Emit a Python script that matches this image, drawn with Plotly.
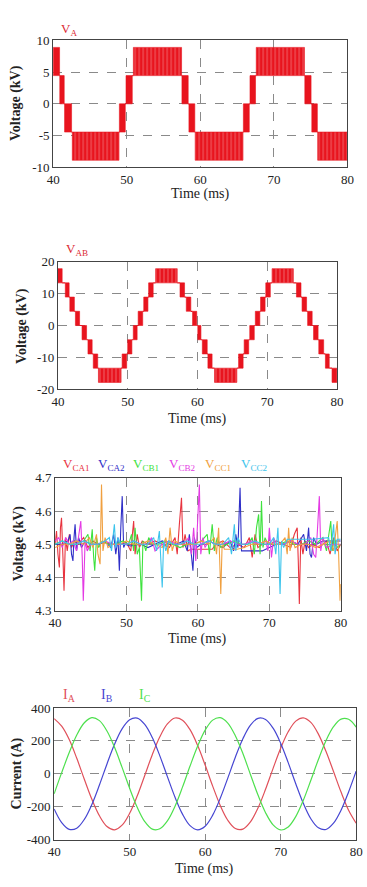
import plotly.graph_objects as go

# ---------------- Panel 1 : phase voltage V_A (kV) ----------------
VA_T0 = [40.0, 40.9, 41.55, 42.6, 49.0, 49.9, 50.9, 57.5, 58.45, 59.3, 65.85, 66.75, 67.6, 74.2, 75.15, 75.95]
VA_T1 = [40.87, 41.5, 42.5, 48.95, 49.8, 50.75, 57.45, 58.35, 59.25, 65.8, 66.65, 67.5, 74.15, 75.05, 75.9, 80.0]
VA_LO = [4.45, 0.0, -4.45, -8.9, -4.45, 0.0, 4.45, 0.0, -4.45, -8.9, -4.45, 0.0, 4.45, 0.0, -4.45, -8.9]
VA_HI = [8.9, 4.45, 0.0, -4.45, 0.0, 4.45, 8.9, 4.45, 0.0, -4.45, 0.0, 4.45, 8.9, 4.45, 0.0, -4.45]

# ---------------- Panel 2 : line voltage V_AB (kV) ----------------
VAB_T0 = [40.0, 41.05, 41.7, 42.5, 43.45, 44.3, 45.06, 45.8, 49.2, 50.0, 50.8, 51.5, 52.3, 53.0, 54.0,
          57.5, 58.4, 59.3, 60.05, 60.7, 61.5, 62.45, 65.9, 66.7, 67.5, 68.3, 69.05, 69.8, 70.7,
          74.2, 75.0, 75.8, 76.65, 77.4, 78.35, 79.3]
VAB_T1 = [40.6, 41.6, 42.35, 43.1, 44.1, 44.9, 45.7, 49.05, 49.85, 50.6, 51.35, 52.15, 52.9, 53.65, 57.1,
          58.15, 59.05, 59.9, 60.5, 61.4, 62.1, 65.65, 66.55, 67.35, 68.15, 68.95, 69.7, 70.45, 73.75,
          74.85, 75.65, 76.45, 77.3, 78.1, 78.9, 80.0]
VAB_LO = [13.35, 8.9, 4.45, 0.0, -4.45, -8.9, -13.35, -17.8, -13.35, -8.9, -4.45, 0.0, 4.45, 8.9, 13.35,
          8.9, 4.45, 0.0, -4.45, -8.9, -13.35, -17.8, -13.35, -8.9, -4.45, 0.0, 4.45, 8.9, 13.35,
          8.9, 4.45, 0.0, -4.45, -8.9, -13.35, -17.8]
VAB_HI = [17.8, 13.35, 8.9, 4.45, 0.0, -4.45, -8.9, -13.35, -8.9, -4.45, 0.0, 4.45, 8.9, 13.35, 17.8,
          13.35, 8.9, 4.45, 0.0, -4.45, -8.9, -13.35, -8.9, -4.45, 0.0, 4.45, 8.9, 13.35, 17.8,
          13.35, 8.9, 4.45, 0.0, -4.45, -8.9, -13.35]

# ---------------- Panel 3 : capacitor voltages (kV) ----------------
CA1_T = [40.0, 40.2, 40.4, 40.6, 40.75, 40.9, 41.1, 41.25, 41.45, 41.7, 42.0, 42.3, 42.7, 43.2, 44.0, 44.6, 45.3,
         46.0, 47.0, 48.0, 49.0, 50.0, 50.6, 50.8, 51.0, 51.2, 51.5, 51.8, 52.2, 53.0, 54.0, 55.0, 56.0, 56.8,
         57.1, 57.4, 57.7, 57.9, 58.2, 58.6, 59.0, 60.0, 61.0, 62.0, 62.5, 63.5, 64.5, 65.5, 66.5, 67.2, 67.6,
         68.0, 68.4, 69.0, 70.0, 71.0, 72.0, 73.0, 73.5, 73.9, 74.05, 74.2, 74.4, 74.7, 75.0, 75.5, 76.0, 77.0,
         78.0, 78.5, 79.0, 79.5, 80.0]
CA1_V = [4.50, 4.54, 4.47, 4.43, 4.55, 4.58, 4.46, 4.36, 4.52, 4.48, 4.53, 4.49, 4.51, 4.50, 4.52, 4.49, 4.51,
         4.50, 4.505, 4.50, 4.50, 4.505, 4.48, 4.54, 4.57, 4.47, 4.53, 4.49, 4.51, 4.50, 4.51, 4.50, 4.49, 4.52,
         4.47, 4.56, 4.64, 4.49, 4.53, 4.48, 4.485, 4.485, 4.485, 4.485, 4.50, 4.51, 4.49, 4.50, 4.49, 4.52, 4.46,
         4.53, 4.49, 4.50, 4.50, 4.51, 4.50, 4.49, 4.53, 4.55, 4.45, 4.32, 4.52, 4.47, 4.51, 4.49, 4.50, 4.49,
         4.51, 4.47, 4.52, 4.48, 4.50]

CA2_T = [40.0, 41.0, 41.8, 42.1, 42.3, 42.5, 42.65, 42.8, 43.0, 43.3, 43.7, 44.2, 45.0, 46.0, 47.0, 47.8, 48.2,
         48.5, 48.8, 49.0, 49.2, 49.4, 49.6, 49.8, 50.5, 52.0, 53.0, 54.0, 55.0, 56.0, 57.0, 58.0, 58.5, 58.8,
         59.1, 59.3, 59.5, 59.8, 60.5, 61.5, 62.5, 63.5, 64.5, 65.0, 65.3, 65.6, 65.9, 66.1, 66.4, 67.0, 68.0,
         69.0, 70.0, 71.0, 72.0, 73.0, 74.0, 74.8, 75.2, 75.5, 75.7, 75.9, 76.2, 76.6, 77.5, 78.5, 79.5, 80.0]
CA2_V = [4.50, 4.50, 4.51, 4.53, 4.47, 4.45, 4.52, 4.56, 4.48, 4.52, 4.49, 4.51, 4.50, 4.50, 4.51, 4.49, 4.53,
         4.47, 4.52, 4.42, 4.55, 4.645, 4.49, 4.50, 4.495, 4.50, 4.49, 4.50, 4.51, 4.50, 4.50, 4.51, 4.48, 4.53,
         4.46, 4.42, 4.52, 4.49, 4.50, 4.51, 4.50, 4.49, 4.51, 4.48, 4.53, 4.49, 4.67, 4.48, 4.48, 4.48, 4.48,
         4.48, 4.49, 4.50, 4.50, 4.51, 4.50, 4.53, 4.48, 4.55, 4.47, 4.46, 4.52, 4.50, 4.51, 4.51, 4.51, 4.51]

CB1_T = [40.0, 41.0, 42.0, 43.0, 44.0, 44.6, 44.9, 45.2, 45.4, 45.55, 45.8, 46.1, 46.6, 47.5, 48.5, 49.5, 50.3,
         50.7, 51.0, 51.2, 51.5, 51.8, 52.1, 52.3, 52.7, 53.1, 53.6, 54.5, 55.5, 56.5, 57.5, 58.5, 59.5, 60.5,
         61.3, 61.6, 62.0, 62.3, 62.7, 63.2, 64.0, 65.0, 66.0, 67.0, 67.6, 67.9, 68.2, 68.5, 68.7, 68.9, 69.1,
         69.4, 69.8, 70.5, 71.5, 72.5, 73.5, 74.5, 75.5, 76.5, 77.5, 78.0, 78.3, 78.6, 78.8, 79.1, 79.5, 80.0]
CB1_V = [4.50, 4.51, 4.50, 4.50, 4.51, 4.53, 4.48, 4.545, 4.46, 4.42, 4.52, 4.49, 4.51, 4.50, 4.50, 4.51, 4.50,
         4.53, 4.48, 4.55, 4.47, 4.49, 4.33, 4.51, 4.48, 4.52, 4.50, 4.50, 4.51, 4.50, 4.49, 4.50, 4.50, 4.51,
         4.53, 4.47, 4.56, 4.48, 4.52, 4.49, 4.50, 4.51, 4.50, 4.50, 4.52, 4.47, 4.55, 4.59, 4.47, 4.63, 4.49,
         4.52, 4.50, 4.50, 4.50, 4.51, 4.50, 4.50, 4.51, 4.50, 4.52, 4.48, 4.53, 4.57, 4.48, 4.52, 4.49, 4.50]

CB2_T = [40.0, 40.5, 41.0, 41.5, 42.0, 42.5, 43.0, 43.3, 43.6, 43.8, 43.95, 44.2, 44.5, 45.0, 46.0, 47.0, 48.0,
         49.0, 50.0, 51.0, 52.0, 53.0, 53.5, 54.0, 55.0, 56.0, 57.0, 58.0, 58.7, 59.1, 59.4, 59.7, 59.9, 60.2,
         60.4, 60.7, 61.0, 61.5, 62.5, 63.5, 64.5, 65.5, 66.5, 67.5, 68.5, 69.5, 69.8, 70.0, 70.3, 70.6, 71.0,
         72.0, 73.0, 74.0, 75.0, 75.8, 76.2, 76.5, 76.7, 77.0, 77.2, 77.5, 78.0, 79.0, 80.0]
CB2_V = [4.51, 4.52, 4.49, 4.52, 4.50, 4.51, 4.48, 4.53, 4.57, 4.46, 4.33, 4.51, 4.48, 4.50, 4.50, 4.51, 4.50,
         4.50, 4.50, 4.51, 4.50, 4.50, 4.52, 4.48, 4.50, 4.51, 4.50, 4.50, 4.52, 4.47, 4.55, 4.45, 4.56, 4.68,
         4.47, 4.52, 4.49, 4.51, 4.50, 4.50, 4.51, 4.50, 4.50, 4.51, 4.50, 4.51, 4.48, 4.55, 4.46, 4.52, 4.50,
         4.50, 4.51, 4.50, 4.50, 4.52, 4.47, 4.46, 4.53, 4.645, 4.48, 4.52, 4.49, 4.50, 4.50]

CC1_T = [40.0, 41.0, 42.0, 43.0, 44.0, 44.8, 45.3, 45.8, 46.0, 46.3, 46.5, 46.7, 47.0, 47.4, 48.0, 49.0, 50.0,
         51.0, 52.0, 53.0, 54.0, 55.0, 55.5, 55.8, 56.1, 56.4, 56.8, 57.5, 58.5, 59.5, 60.5, 61.5, 62.3, 62.6,
         62.9, 63.05, 63.2, 63.4, 63.7, 64.5, 65.5, 66.5, 67.5, 68.5, 69.5, 70.5, 71.5, 72.2, 72.5, 72.7, 72.9,
         73.2, 73.6, 74.5, 75.5, 76.5, 77.5, 78.5, 79.0, 79.3, 79.5, 79.7, 79.9, 80.0]
CC1_V = [4.49, 4.50, 4.50, 4.51, 4.50, 4.52, 4.49, 4.53, 4.47, 4.44, 4.68, 4.48, 4.52, 4.49, 4.50, 4.50, 4.51,
         4.50, 4.50, 4.51, 4.50, 4.49, 4.52, 4.47, 4.55, 4.48, 4.51, 4.50, 4.50, 4.50, 4.51, 4.50, 4.52, 4.47,
         4.55, 4.46, 4.35, 4.51, 4.485, 4.485, 4.485, 4.49, 4.50, 4.50, 4.51, 4.50, 4.50, 4.52, 4.47, 4.55, 4.48,
         4.52, 4.49, 4.50, 4.50, 4.49, 4.50, 4.51, 4.48, 4.53, 4.57, 4.47, 4.33, 4.38]

CC2_T = [40.0, 41.0, 42.0, 43.0, 44.0, 45.0, 46.0, 47.0, 47.6, 47.9, 48.3, 48.5, 48.8, 49.2, 50.0, 51.0, 52.0,
         53.0, 53.8, 54.2, 54.6, 54.8, 55.0, 55.2, 55.5, 55.9, 56.5, 57.5, 58.5, 59.5, 60.5, 61.5, 62.5, 63.5,
         64.3, 64.7, 65.1, 65.3, 65.6, 66.0, 67.0, 68.0, 69.0, 70.0, 70.6, 70.9, 71.2, 71.35, 71.5, 71.7, 72.0,
         72.5, 74.0, 76.0, 78.3, 78.6, 79.0, 79.2, 79.5, 80.0]
CC2_V = [4.50, 4.51, 4.50, 4.50, 4.51, 4.50, 4.50, 4.51, 4.52, 4.48, 4.56, 4.49, 4.52, 4.50, 4.50, 4.51, 4.50,
         4.50, 4.52, 4.48, 4.54, 4.45, 4.37, 4.51, 4.48, 4.51, 4.50, 4.50, 4.51, 4.50, 4.50, 4.51, 4.50, 4.50,
         4.52, 4.47, 4.56, 4.48, 4.52, 4.50, 4.50, 4.51, 4.50, 4.50, 4.52, 4.47, 4.55, 4.46, 4.35, 4.51, 4.49,
         4.515, 4.515, 4.515, 4.52, 4.48, 4.56, 4.47, 4.515, 4.515]

# ---------------- Panel 4 : phase currents (A) ----------------
T_I = list(range(40, 81))
I_A = [335, 289, 208, 94, -33, -155, -255, -320, -340, -312, -240, -135, -10, 116, 225, 303, 339, 326, 268, 173,
       53, -75, -192, -282, -332, -336, -292, -208, -94, 33, 155, 255, 320, 340, 312, 241, 137, 14, -111, -221, -300]
I_B = [-213, -296, -337, -330, -277, -186, -68, 60, 179, 273, 328, 338, 300, 220, 109, -17, -141, -245, -315, -340,
       -318, -251, -149, -26, 101, 213, 296, 337, 330, 277, 186, 68, -60, -179, -273, -328, -338, -300, -221, -110, 16]
I_C = [-122, 7, 129, 236, 310, 341, 323, 260, 161, 39, -88, -203, -290, -336, -334, -286, -198, -81, 47, 167,
       265, 326, 341, 308, 231, 123, -4, -129, -236, -310, -341, -323, -260, -161, -39, 87, 201, 286, 332, 331, 284]

# ---------------- Axis ticks ----------------
X_TICKS = [40, 50, 60, 70, 80]
Y1_TICKS = [10, 5, 0, -5, -10]
Y2_TICKS = [20, 10, 0, -10, -20]
Y3_TICKS = [4.7, 4.6, 4.5, 4.4, 4.3]
Y4_TICKS = [400, 200, 0, -200, -400]

RED = "#e8141e"
FONT = "Liberation Serif, Times New Roman, DejaVu Serif, serif"
W, H = 367, 887


def px_x(p):
    return p / W


def px_y(p):
    return 1 - p / H


def band_poly(t0, t1, lo, hi, wide):
    xs, ys = [], []
    for a, b, l, h in zip(t0, t1, lo, hi):
        if ((b - a) >= 2.0) == wide:
            xs += [a, b, b, a, a, None]
            ys += [l, l, h, h, l, None]
    return xs, ys


def step_links(t0, t1, lo, hi):
    xs, ys = [], []
    for i in range(len(t0) - 1):
        shared = {lo[i], hi[i]} & {lo[i + 1], hi[i + 1]}
        if shared:
            lv = shared.pop()
            xs += [t1[i], t0[i + 1], None]
            ys += [lv, lv, None]
    return xs, ys


fig = go.Figure()


def add_bands(t0, t1, lo, hi, n):
    xa, ya = ("x" if n == 1 else f"x{n}"), ("y" if n == 1 else f"y{n}")
    lx, ly = step_links(t0, t1, lo, hi)
    fig.add_trace(go.Scatter(x=lx, y=ly, mode="lines", line=dict(color=RED, width=1.2),
                             xaxis=xa, yaxis=ya, hoverinfo="skip"))
    nx, ny = band_poly(t0, t1, lo, hi, False)
    fig.add_trace(go.Scatter(x=nx, y=ny, mode="lines", fill="toself", fillcolor=RED,
                             line=dict(color=RED, width=0.6), xaxis=xa, yaxis=ya, hoverinfo="skip"))
    wx, wy = band_poly(t0, t1, lo, hi, True)
    fig.add_trace(go.Scatter(x=wx, y=wy, mode="lines", fill="toself", fillcolor=RED,
                             fillpattern=dict(shape="|", fgcolor="rgba(255,235,235,0.85)", bgcolor=RED,
                                              size=4, solidity=0.22),
                             line=dict(color=RED, width=0.6), xaxis=xa, yaxis=ya, hoverinfo="skip"))


add_bands(VA_T0, VA_T1, VA_LO, VA_HI, 1)
add_bands(VAB_T0, VAB_T1, VAB_LO, VAB_HI, 2)

cap_series = [
    (CA1_T, CA1_V, "#e8343f"),
    (CA2_T, CA2_V, "#2f2fc8"),
    (CB1_T, CB1_V, "#3ee23e"),
    (CB2_T, CB2_V, "#e43ae4"),
    (CC1_T, CC1_V, "#f0a040"),
    (CC2_T, CC2_V, "#3cc4ec"),
]
for t, v, c in cap_series:
    fig.add_trace(go.Scatter(x=t, y=v, mode="lines", line=dict(color=c, width=1.1),
                             xaxis="x3", yaxis="y3", hoverinfo="skip"))

for vals, c in [(I_A, "#e0505a"), (I_B, "#4646d2"), (I_C, "#4ee04e")]:
    fig.add_trace(go.Scatter(x=T_I, y=vals, mode="lines", line=dict(color=c, width=1.2, shape="spline"),
                             xaxis="x4", yaxis="y4", hoverinfo="skip"))

domains = [
    ((48, 354), (34, 163), (-10, 10), Y1_TICKS, "%g"),
    ((53, 343), (259, 389), (-20, 20), Y2_TICKS, "%g"),
    ((50, 347), (479, 614), (4.3, 4.7), Y3_TICKS, "%.1f"),
    ((49, 363), (713, 847), (-400, 400), Y4_TICKS, "%g"),
]

layout = dict(width=W, height=H, margin=dict(l=0, r=0, t=0, b=0), paper_bgcolor="white",
              plot_bgcolor="white", showlegend=False, font=dict(family=FONT, size=12, color="#222"))

common = dict(showgrid=True, gridcolor="#8a8a8a", griddash="dash", gridwidth=0.8, showline=True,
              linecolor="#444", linewidth=1, mirror=True, ticks="", zeroline=False,
              tickfont=dict(family=FONT, size=13, color="#222"))

for i, ((x0, x1), (y0, y1), yr, yt, fmt) in enumerate(domains, start=1):
    sx = "" if i == 1 else str(i)
    layout[f"xaxis{sx}"] = dict(domain=[px_x(x0), px_x(x1)], range=[40, 80], anchor=f"y{sx}",
                                tickvals=X_TICKS, ticktext=[str(v) for v in X_TICKS],
                                ticklabelstandoff=0, **common)
    layout[f"yaxis{sx}"] = dict(domain=[px_y(y1), px_y(y0)], range=list(yr), anchor=f"x{sx}",
                                tickvals=yt, ticktext=[(fmt % v) for v in yt],
                                **common)

fig.update_layout(**layout)


def note(text, x, y, color="#222", size=12, angle=0, bold=False, xanchor="center"):
    if bold:
        text = f"<b>{text}</b>"
    fig.add_annotation(text=text, x=px_x(x), y=px_y(y), xref="paper", yref="paper", showarrow=False,
                       font=dict(family=FONT, size=size, color=color), textangle=angle,
                       xanchor=xanchor, yanchor="middle")


# Panel titles / legends
note("V<sub>A</sub>", 54, 23, color="#dc2a34", xanchor="left", size=13)
note("V<sub>AB</sub>", 59, 247, color="#dc2a34", xanchor="left", size=13)
leg3 = [("V<sub>CA1</sub>", 56, "#e8343f"), ("V<sub>CA2</sub>", 93, "#2f2fc8"), ("V<sub>CB1</sub>", 129, "#3ee23e"),
        ("V<sub>CB2</sub>", 166, "#e43ae4"), ("V<sub>CC1</sub>", 204, "#f0a040"), ("V<sub>CC2</sub>", 241, "#3cc4ec")]
for txt, x, c in leg3:
    note(txt, x, 465, color=c, xanchor="left", size=13)
leg4 = [("I<sub>A</sub>", 56, "#e0505a"), ("I<sub>B</sub>", 96, "#4646d2"), ("I<sub>C</sub>", 135, "#4ee04e")]
for txt, x, c in leg4:
    note(txt, x, 700, color=c, xanchor="left", size=14)

# Axis titles
note("Voltage (kV)", 10, 98, angle=-90, bold=True, size=14)
note("Time (ms)", 201, 190, size=14)
note("Voltage (kV)", 15, 324, angle=-90, bold=True, size=14)
note("Time (ms)", 198, 419, size=14)
note("Voltage (kV)", 12, 546, angle=-90, bold=True, size=14)
note("Time (ms)", 198, 643, size=14)
note("Current (A)", 10, 780, angle=-90, bold=True, size=14)
note("Time (ms)", 205, 877, size=14)

fig.write_html("out.html")
